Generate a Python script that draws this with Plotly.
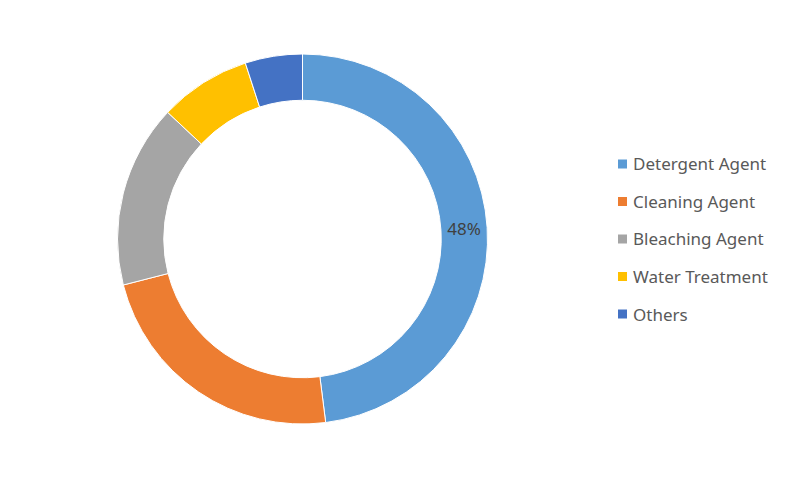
import plotly.graph_objects as go

categories = ["Detergent Agent", "Cleaning Agent", "Bleaching Agent", "Water Treatment", "Others"]
shares = [48, 23, 16, 8, 5]
colors = ["#5B9BD5", "#ED7D31", "#A5A5A5", "#FFC000", "#4472C4"]
shown_labels = ["48%", "", "", "", ""]

W, H = 800, 480
OFF = 8  # page body margin

def px_x(x):
    return (x - OFF) / W

def px_y(y):
    return (H - (y - OFF)) / H

fig = go.Figure()
fig.add_trace(go.Pie(
    labels=categories,
    values=shares,
    hole=0.75,
    sort=False,
    direction="clockwise",
    rotation=0,
    marker=dict(colors=colors, line=dict(color="white", width=1)),
    text=shown_labels,
    textinfo="text",
    textposition="inside",
    insidetextorientation="horizontal",
    textfont=dict(family="Noto Sans", size=17, color="#404040"),
    domain=dict(x=[px_x(117.5), px_x(487.5)], y=[px_y(424), px_y(54)]),
    showlegend=False,
))

# manual legend (Excel-style spacing)
leg_x = 618
leg_y0 = 164
leg_step = 37.5
sq = 9
shapes = []
annotations = []
for i, (name, col) in enumerate(zip(categories, colors)):
    yc = leg_y0 + i * leg_step
    shapes.append(dict(type="rect", xref="paper", yref="paper",
                       x0=px_x(leg_x), x1=px_x(leg_x + sq),
                       y0=px_y(yc + sq / 2), y1=px_y(yc - sq / 2),
                       fillcolor=col, line=dict(width=0)))
    annotations.append(dict(xref="paper", yref="paper", x=px_x(leg_x + sq + 4), y=px_y(yc),
                            text=name, showarrow=False, xanchor="left", yanchor="middle",
                            font=dict(family="Noto Sans", size=17, color="#595959")))

fig.update_layout(
    width=W, height=H,
    margin=dict(l=0, r=0, t=0, b=0),
    paper_bgcolor="white",
    plot_bgcolor="white",
    shapes=shapes,
    annotations=annotations,
    uniformtext=dict(minsize=17, mode="show"),
)
fig.write_html("out.html")
